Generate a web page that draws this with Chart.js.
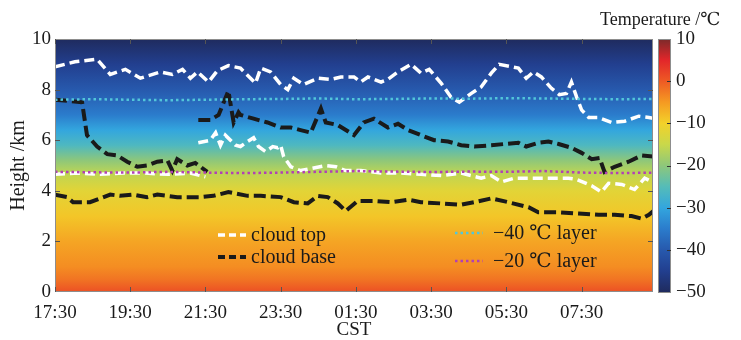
<!DOCTYPE html>
<html lang="en">
<head>
<meta charset="UTF-8">
<title>Cloud top / base and isotherms</title>
<script src="https://cdn.jsdelivr.net/npm/chart.js"></script>
<style>
  body { margin: 0; background: #fff; }
  #wrap { width: 741px; height: 340px; }
</style>
</head>
<body>
<div id="wrap"><canvas id="chart" width="741" height="340"></canvas></div>
<script>
// time in hours after 17:30 CST, heights in km
const xTickValues = [0, 2, 4, 6, 8, 10, 12, 14];
const xTickLabels = ['17:30', '19:30', '21:30', '23:30', '01:30', '03:30', '05:30', '07:30'];

// upper cloud top
const ctUpT = [0, 0.53, 1.12, 1.47, 1.87, 2.27, 2.8, 3.12, 3.39, 3.6, 3.79, 4.08, 4.32, 4.61, 4.93, 5.33, 5.47, 5.73, 6.0, 6.19, 6.35, 6.61, 6.99, 7.33, 7.6, 7.95, 8.13, 8.32, 8.67, 8.85, 9.12, 9.47, 9.73, 9.95, 10.27, 10.53, 10.75, 11.07, 11.33, 11.6, 11.81, 12.32, 12.53, 12.72, 12.93, 13.2, 13.41, 13.6, 13.73, 13.87, 14.0, 14.19, 14.45, 14.8, 15.15, 15.52, 15.79, 15.95];
const ctUpH = [8.9, 9.1, 9.2, 8.6, 8.8, 8.45, 8.7, 8.6, 8.8, 8.45, 8.7, 8.3, 8.75, 8.95, 8.85, 8.25, 8.85, 8.7, 8.2, 8.0, 8.45, 8.2, 8.45, 8.4, 8.5, 8.5, 8.3, 8.5, 8.3, 8.4, 8.7, 9.0, 8.65, 8.8, 8.25, 7.7, 7.5, 7.85, 8.1, 8.65, 9.0, 8.85, 8.45, 8.7, 8.5, 8.05, 7.8, 7.85, 8.3, 7.7, 7.2, 6.9, 6.9, 6.7, 6.75, 6.95, 6.9, 6.85];

// lower cloud top, first part
const ctLoAT = [0, 0.6, 1.2, 1.8, 2.4, 3.0, 3.6, 4.0];
const ctLoAH = [4.65, 4.7, 4.65, 4.7, 4.7, 4.65, 4.7, 4.55];
// lower cloud top, second part
const ctLoBT = [3.81, 4.13, 4.27, 4.4, 4.53, 4.8, 4.93, 5.12, 5.28, 5.41, 5.6, 5.79, 5.92, 6.0, 6.08, 6.27, 6.53, 6.88, 7.2, 7.47, 7.73, 8.13, 8.67, 9.2, 9.73, 10.27, 10.8, 11.33, 11.6, 11.87, 12.21, 12.67, 13.2, 13.65, 13.87, 14.27, 14.53, 14.72, 15.07, 15.41, 15.68, 15.95];
const ctLoBH = [5.9, 6.0, 6.3, 5.8, 6.2, 5.8, 5.75, 5.95, 6.1, 5.75, 5.55, 5.75, 5.7, 5.8, 5.35, 4.95, 4.8, 4.9, 5.0, 4.95, 4.8, 4.8, 4.7, 4.7, 4.65, 4.6, 4.7, 4.5, 4.6, 4.35, 4.5, 4.5, 4.5, 4.5, 4.45, 4.2, 3.95, 4.3, 4.25, 4.05, 4.5, 4.3];

// upper cloud base, first part
const cbUpAT = [0, 0.72, 0.85, 1.12, 1.39, 1.65, 1.92, 2.19, 2.45, 2.72, 2.99, 3.12, 3.25, 3.52, 3.73, 4.05];
const cbUpAH = [7.6, 7.5, 6.2, 5.75, 5.45, 5.4, 5.15, 4.95, 5.0, 5.15, 5.2, 4.8, 5.25, 5.0, 5.1, 4.75];
// upper cloud base, second part
const cbUpBT = [3.81, 4.13, 4.35, 4.61, 4.75, 4.88, 4.93, 5.28, 5.65, 6.0, 6.27, 6.53, 6.8, 7.07, 7.2, 7.52, 7.95, 8.21, 8.48, 8.85, 9.12, 9.39, 9.73, 10.08, 10.45, 10.8, 11.15, 11.6, 11.95, 12.32, 12.53, 12.85, 13.12, 13.39, 13.73, 14.0, 14.27, 14.48, 14.61, 14.88, 15.25, 15.6, 15.95];
const cbUpBH = [6.8, 6.8, 7.0, 7.95, 6.7, 7.1, 7.0, 6.85, 6.7, 6.5, 6.5, 6.4, 6.3, 7.25, 6.7, 6.6, 6.2, 6.7, 6.85, 6.5, 6.65, 6.4, 6.2, 6.0, 5.95, 5.8, 5.75, 5.8, 5.85, 5.9, 5.75, 5.9, 5.95, 5.85, 5.7, 5.5, 5.25, 5.3, 4.75, 4.95, 5.15, 5.4, 5.35];

// lower cloud base
const cbLoT = [0, 0.32, 0.48, 0.93, 1.2, 1.47, 1.73, 2.08, 2.45, 2.72, 3.25, 3.87, 4.21, 4.61, 5.12, 5.47, 6.0, 6.35, 6.72, 6.99, 7.25, 7.52, 7.73, 8.05, 8.48, 8.93, 9.39, 9.73, 10.27, 10.8, 11.15, 11.6, 12.05, 12.59, 12.85, 13.39, 13.92, 14.45, 14.88, 15.33, 15.6, 15.79, 15.95];
const cbLoH = [3.85, 3.75, 3.55, 3.55, 3.7, 3.85, 3.8, 3.85, 3.75, 3.85, 3.75, 3.75, 3.8, 3.95, 3.8, 3.8, 3.75, 3.55, 3.5, 3.8, 3.75, 3.5, 3.2, 3.6, 3.6, 3.55, 3.65, 3.55, 3.5, 3.45, 3.55, 3.7, 3.55, 3.35, 3.15, 3.15, 3.1, 3.05, 3.05, 3.0, 2.9, 3.05, 3.25];

// isotherm layers
const isoT = [0, 1, 2, 3, 4, 5, 6, 7, 8, 9, 10, 11, 12, 13, 14, 15, 16];
const iso40H = [7.6, 7.62, 7.6, 7.58, 7.6, 7.62, 7.63, 7.65, 7.62, 7.63, 7.65, 7.64, 7.66, 7.65, 7.63, 7.62, 7.63];
const iso20H = [4.75, 4.73, 4.72, 4.75, 4.72, 4.7, 4.72, 4.75, 4.78, 4.76, 4.74, 4.76, 4.75, 4.78, 4.72, 4.7, 4.72];

// background temperature profile (height km -> deg C)
const profileH = [0, 0.5, 1, 2, 3, 4, 4.7, 5.2, 5.8, 6.4, 7, 8, 9, 10];
const profileT = [1, -2, -4, -6, -9, -12, -16, -20, -26, -30, -35, -40, -45, -50];

// colour map
const cmapT = [-50, -45, -40, -35, -30, -25, -20, -15, -10, -5, 0, 5, 10];
const cmapC = ['#1f2b5e', '#223f8f', '#2759ad', '#2b7ccc', '#33a6de', '#55bcb8', '#8ec77a', '#c9d84a', '#f3d12a', '#f59a22', '#ee5a24', '#e2262a', '#7b2a2a'];

const tempTicks = [-50, -40, -30, -20, -10, 0, 10];

function pts(t, h) { return t.map((v, i) => ({ x: v, y: h[i] })); }

function hexRgb(c) {
  return [parseInt(c.slice(1, 3), 16), parseInt(c.slice(3, 5), 16), parseInt(c.slice(5, 7), 16)];
}
function tempColor(t) {
  if (t <= cmapT[0]) return cmapC[0];
  if (t >= cmapT[cmapT.length - 1]) return cmapC[cmapC.length - 1];
  let i = 0;
  while (t > cmapT[i + 1]) i++;
  const f = (t - cmapT[i]) / (cmapT[i + 1] - cmapT[i]);
  const a = hexRgb(cmapC[i]), b = hexRgb(cmapC[i + 1]);
  const r = a.map((v, k) => Math.round(v + (b[k] - v) * f));
  return 'rgb(' + r.join(',') + ')';
}

const serif = "'Liberation Serif', 'DejaVu Serif', serif";
Chart.defaults.font.family = serif;
Chart.defaults.color = '#1a1a1a';

const WHITE = '#ffffff', BLACK = '#1a1a1a';
function lineDs(label, data, color, dash, width) {
  return {
    label: label, data: data, borderColor: color, borderDash: dash, borderWidth: width,
    pointRadius: 0, fill: false, tension: 0, borderCapStyle: 'butt'
  };
}

const datasets = [
  lineDs('-40 ℃ layer', pts(isoT, iso40H), '#52c6da', [2.5, 3], 2.5),
  lineDs('-20 ℃ layer', pts(isoT, iso20H), '#b23fb6', [2.5, 3], 2.5),
  lineDs('cloud base', pts(cbLoT, cbLoH), BLACK, [12, 5], 4),
  lineDs('cloud base', pts(cbUpAT, cbUpAH), BLACK, [12, 5], 4),
  lineDs('cloud base', pts(cbUpBT, cbUpBH), BLACK, [12, 5], 4),
  lineDs('cloud top', pts(ctUpT, ctUpH), WHITE, [10, 5], 3.5),
  lineDs('cloud top', pts(ctLoAT, ctLoAH), WHITE, [10, 5], 3.5),
  lineDs('cloud top', pts(ctLoBT, ctLoBH), WHITE, [10, 5], 3.5)
];

// temperature field behind the lines
const fieldPlugin = {
  id: 'field',
  beforeDatasetsDraw(chart) {
    const { ctx, chartArea: a, scales } = chart;
    const y = scales.y;
    const y0 = y.getPixelForValue(0), y1 = y.getPixelForValue(10);
    const g = ctx.createLinearGradient(0, y0, 0, y1);
    profileH.forEach((h, i) => {
      g.addColorStop((y.getPixelForValue(h) - y0) / (y1 - y0), tempColor(profileT[i]));
    });
    ctx.save();
    ctx.fillStyle = g;
    ctx.fillRect(a.left, a.top, a.right - a.left, a.bottom - a.top);
    ctx.restore();
  },
  afterDraw(chart) {
    const { ctx, chartArea: a, scales } = chart;
    ctx.save();
    // frame with inward ticks
    ctx.strokeStyle = '#8d8d8d';
    ctx.lineWidth = 1;
    ctx.strokeRect(a.left + 0.5, a.top + 0.5, a.right - a.left - 1, a.bottom - a.top - 1);
    ctx.strokeStyle = '#555';
    ctx.beginPath();
    xTickValues.forEach(v => {
      const px = Math.round(scales.x.getPixelForValue(v)) + 0.5;
      ctx.moveTo(px, a.bottom); ctx.lineTo(px, a.bottom - 5);
      ctx.moveTo(px, a.top); ctx.lineTo(px, a.top + 5);
    });
    [2, 4, 6, 8].forEach(v => {
      const py = Math.round(scales.y.getPixelForValue(v)) + 0.5;
      ctx.moveTo(a.left, py); ctx.lineTo(a.left + 5, py);
      ctx.moveTo(a.right, py); ctx.lineTo(a.right - 5, py);
    });
    ctx.stroke();

    // colour bar
    const t = scales.yT;
    const bx = a.right + 5, bw = 13;
    const b0 = t.getPixelForValue(-50), b1 = t.getPixelForValue(10);
    const g = ctx.createLinearGradient(0, b0, 0, b1);
    cmapT.forEach((v, i) => g.addColorStop((t.getPixelForValue(v) - b0) / (b1 - b0), cmapC[i]));
    ctx.fillStyle = g;
    ctx.fillRect(bx, b1, bw, b0 - b1);
    ctx.strokeStyle = '#8d8d8d';
    ctx.strokeRect(bx + 0.5, b1 + 0.5, bw - 1, b0 - b1);
    ctx.strokeStyle = '#333';
    ctx.beginPath();
    tempTicks.slice(1, -1).forEach(v => {
      const py = Math.round(t.getPixelForValue(v)) + 0.5;
      ctx.moveTo(bx + bw, py); ctx.lineTo(bx + bw - 4, py);
    });
    ctx.stroke();

    ctx.fillStyle = '#1a1a1a';
    ctx.font = '18px ' + serif;
    ctx.textAlign = 'left';
    ctx.textBaseline = 'middle';
    ctx.fillText('Temperature /℃', 600, 20);

    // legend, two groups inside the plot
    const groups = [
      { ds: 5, x: 218, y: 235, text: 'cloud top' },
      { ds: 2, x: 218, y: 257, text: 'cloud base' },
      { ds: 0, x: 455, y: 233, text: '−40 ℃ layer' },
      { ds: 1, x: 455, y: 261, text: '−20 ℃ layer' }
    ];
    ctx.font = '20px ' + serif;
    groups.forEach(gr => {
      const d = chart.data.datasets[gr.ds];
      ctx.strokeStyle = d.borderColor;
      ctx.lineWidth = d.borderWidth;
      ctx.setLineDash(gr.ds < 2 ? d.borderDash : [7, 4]);
      ctx.beginPath();
      ctx.moveTo(gr.x, gr.y); ctx.lineTo(gr.x + 28, gr.y);
      ctx.stroke();
      ctx.setLineDash([]);
      ctx.fillStyle = '#1a1a1a';
      ctx.fillText(gr.text, gr.x + (gr.ds < 2 ? 38 : 33), gr.y + 1);
    });
    ctx.restore();
  }
};

new Chart(document.getElementById('chart'), {
  type: 'line',
  data: { datasets: datasets },
  options: {
    responsive: false,
    animation: false,
    layout: { padding: { top: 39, left: 0, right: 0, bottom: 0 } },
    plugins: { legend: { display: false }, tooltip: { enabled: false } },
    scales: {
      x: {
        type: 'linear', min: 0, max: 15.9,
        grid: { display: false, drawTicks: false }, border: { display: false },
        afterBuildTicks(scale) { scale.ticks = xTickValues.map(v => ({ value: v })); },
        afterFit(scale) { scale.height = 48; },
        ticks: {
          padding: 10, maxRotation: 0, autoSkip: false,
          font: { size: 19 },
          callback: (v, i) => xTickLabels[i]
        },
        title: { display: true, text: 'CST', font: { size: 19, lineHeight: 1 }, padding: 0 }
      },
      y: {
        min: 0, max: 10,
        grid: { display: false, drawTicks: false }, border: { display: false },
        afterFit(scale) { scale.width = 55; },
        ticks: { stepSize: 2, padding: 4, font: { size: 19 } },
        title: { display: true, text: 'Height /km', font: { size: 20, lineHeight: 1 }, padding: { top: 9, bottom: 0 } }
      },
      yT: {
        position: 'right', min: -50, max: 10,
        grid: { display: false, drawTicks: false }, border: { display: false },
        afterFit(scale) { scale.width = 88; },
        afterBuildTicks(scale) { scale.ticks = tempTicks.map(v => ({ value: v })); },
        ticks: {
          padding: 23, font: { size: 19 },
          callback: v => String(v).replace('-', '−')
        }
      }
    }
  },
  plugins: [fieldPlugin]
});
</script>
</body>
</html>
